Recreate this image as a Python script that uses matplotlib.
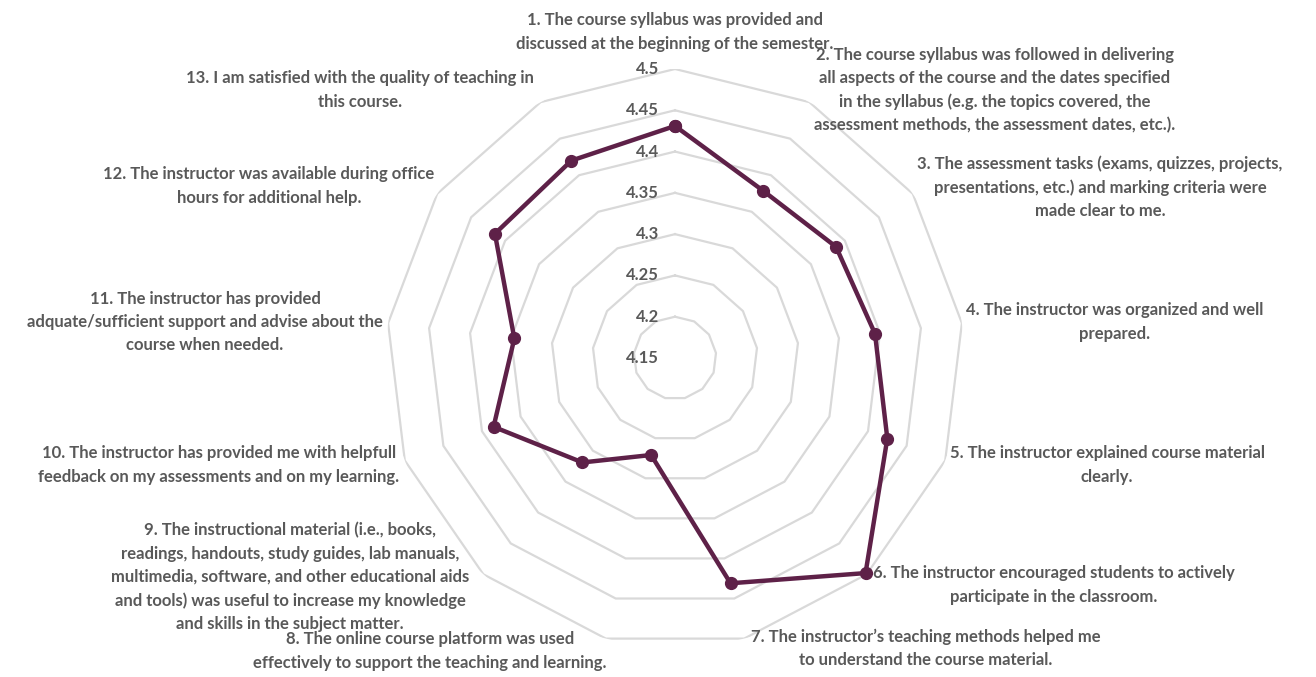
import numpy as np
import matplotlib.pyplot as plt
from matplotlib.transforms import offset_copy

plt.rcParams['font.family'] = ['Lato', 'DejaVu Sans']

# Preguntas de la encuesta (etiquetas de los ejes)
preguntas = [
    "1. The course syllabus was provided and\ndiscussed at the beginning of the semester.",
    "2. The course syllabus was followed in delivering\nall aspects of the course and the dates specified\nin the syllabus (e.g. the topics covered, the\nassessment methods, the assessment dates, etc.).",
    "3. The assessment tasks (exams, quizzes, projects,\npresentations, etc.) and marking criteria were\nmade clear to me.",
    "4. The instructor was organized and well\nprepared.",
    "5. The instructor explained course material\nclearly.",
    "6. The instructor encouraged students to actively\nparticipate in the classroom.",
    "7. The instructor\u2019s teaching methods helped me\nto understand the course material.",
    "8. The online course platform was used\neffectively to support the teaching and learning.",
    "9. The instructional material (i.e., books,\nreadings, handouts, study guides, lab manuals,\nmultimedia, software, and other educational aids\nand tools) was useful to increase my knowledge\nand skills in the subject matter.",
    "10. The instructor has provided me with helpfull\nfeedback on my assessments and on my learning.",
    "11. The instructor has provided\nadquate/sufficient support and advise about the\ncourse when needed.",
    "12. The instructor was available during office\nhours for additional help.",
    "13. I am satisfied with the quality of teaching in\nthis course.",
]

# Promedios
promedios = [4.431, 4.379, 4.387, 4.394, 4.425, 4.498, 4.431,
             4.271, 4.319, 4.385, 4.346, 4.415, 4.420]

# Niveles de la escala radial
niveles = [4.15, 4.2, 4.25, 4.3, 4.35, 4.4, 4.45, 4.5]
etiquetas_niveles = ["4.15", "4.2", "4.25", "4.3", "4.35", "4.4", "4.45", "4.5"]

# Posición (px) del centro de cada etiqueta de pregunta
pos_etiquetas = [(675, 32), (995, 90), (1100, 187), (1115, 322), (1107, 465),
                 (1054, 585), (926, 648), (430, 651), (290, 577), (219, 465),
                 (205, 322), (269, 186), (360, 90)]

gris = "#595959"
color_linea = "#5E2148"
W, H = 1316, 677

n = len(promedios)
angulos = np.arange(n) * 2 * np.pi / n

fig = plt.figure(figsize=(W / 100, H / 100), dpi=100)
cx, cy, R = 675, 358, 289
ax = fig.add_axes([(cx - R) / W, (H - cy - R) / H, 2 * R / W, 2 * R / H],
                  projection='polar')
ax.set_theta_offset(np.pi / 2)
ax.set_theta_direction(-1)
ax.set_ylim(niveles[0], niveles[-1])
ax.grid(False)
ax.spines['polar'].set_visible(False)
ax.set_xticks([])
ax.set_yticks([])
ax.patch.set_alpha(0)

# Rejilla poligonal
ang_cerrado = np.append(angulos, angulos[0])
for v in niveles[1:]:
    ax.plot(ang_cerrado, np.full(n + 1, v), color="#D9D9D9", lw=1.6, zorder=1)

# Etiquetas de la escala
trans = offset_copy(ax.transData, fig=fig, x=-16, y=0, units='dots')
for v, t in zip(niveles, etiquetas_niveles):
    ax.text(0, v, t, transform=trans, ha='right', va='center',
            fontsize=12, fontweight='bold', color=gris, zorder=2)

# Serie
vals = np.append(promedios, promedios[0])
ax.plot(ang_cerrado, vals, color=color_linea, lw=3.2, marker='o',
        markersize=8.5, zorder=3, clip_on=False)

# Etiquetas de las preguntas
for texto, (px, py) in zip(preguntas, pos_etiquetas):
    fig.text(px / W, 1 - py / H, texto, ha='center', va='center',
             multialignment='center', fontsize=12, fontweight='bold',
             color=gris, linespacing=1.55, zorder=5)

plt.savefig("out.png", dpi=100)
